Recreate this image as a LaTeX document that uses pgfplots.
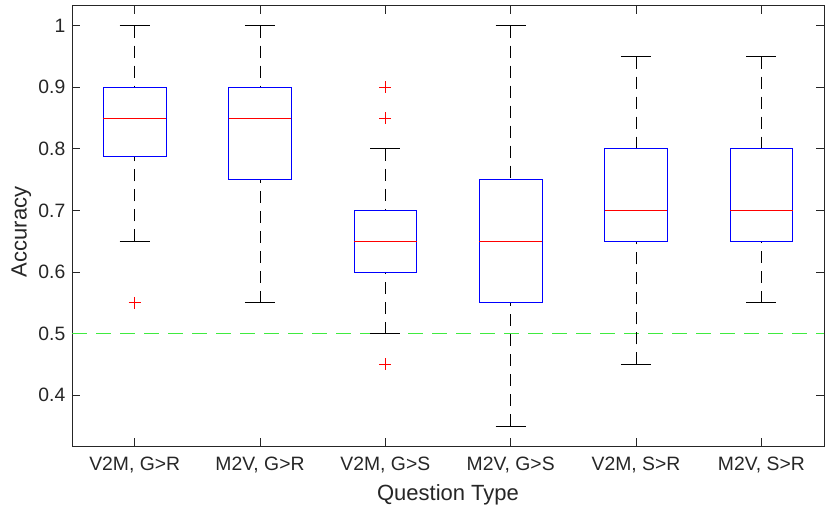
\documentclass[border=0pt]{standalone}
\usepackage{pgfplots}
\pgfplotsset{compat=1.18}
\usepgfplotslibrary{statistics}
\usepackage{fontspec}
\setmainfont{Liberation Sans}
\definecolor{axgray}{rgb}{0.15,0.15,0.15}
\definecolor{mgreen}{rgb}{0.25,0.92,0.25}
\pgfplotsset{
  boxplot/draw/lower whisker/.code={%
    \draw[black, line width=0.6pt, dash pattern=on 9pt off 6pt]
      (boxplot box cs:\pgfplotsboxplotvalue{lower whisker},0.5) --
      (boxplot box cs:\pgfplotsboxplotvalue{lower quartile},0.5);
    \draw[black, solid, line width=0.6pt]
      (boxplot whisker cs:\pgfplotsboxplotvalue{lower whisker},0) --
      (boxplot whisker cs:\pgfplotsboxplotvalue{lower whisker},1);
  },
  boxplot/draw/upper whisker/.code={%
    \draw[black, line width=0.6pt, dash pattern=on 9pt off 6pt]
      (boxplot box cs:\pgfplotsboxplotvalue{upper whisker},0.5) --
      (boxplot box cs:\pgfplotsboxplotvalue{upper quartile},0.5);
    \draw[black, solid, line width=0.6pt]
      (boxplot whisker cs:\pgfplotsboxplotvalue{upper whisker},0) --
      (boxplot whisker cs:\pgfplotsboxplotvalue{upper whisker},1);
  },
}
\begin{document}
\fontsize{14.5}{17}\selectfont
\begin{tikzpicture}
\begin{axis}[name=ax, scale only axis, width=564pt, height=330.2pt,
  xmin=0.5, xmax=6.5, ymin=0.3175, ymax=1.0325,
  xtick={1,2,3,4,5,6},
  xticklabels={{V2M, G>R},{M2V, G>R},{V2M, G>S},{M2V, G>S},{V2M, S>R},{M2V, S>R}},
  ytick={0.4,0.5,0.6,0.7,0.8,0.9,1.0},
  yticklabels={0.4,0.5,0.6,0.7,0.8,0.9,1},
  tick align=inside, major tick length=6pt,
  axis line style={draw=axgray, line width=0.6pt},
  tick style={draw=axgray, line width=0.6pt},
  ticklabel style={text=axgray, font=\fontsize{14.5}{17}\selectfont},
  xticklabel style={yshift=-3pt},
  label style={text=axgray, font=\fontsize{16.5}{19}\selectfont},
  xlabel={Question Type}, ylabel={Accuracy},
  xlabel style={yshift=1pt}, ylabel style={yshift=-4.5pt, xshift=-4.5pt},
  boxplot/draw direction=y,
  boxplot/box extend=0.5,
  boxplot/whisker extend=0.24,
  boxplot/every median/.style={draw=red, solid, line width=0.6pt},
  boxplot/every box/.style={draw=blue, solid, line width=0.6pt},
]
\addplot[mgreen, line width=1.3pt, dash pattern=on 11pt off 7pt, forget plot]
  coordinates {(0.5,0.5) (6.5,0.5)};

\addplot[blue, boxplot prepared={draw position=1,
  lower whisker=0.65, lower quartile=0.7875, median=0.85,
  upper quartile=0.9, upper whisker=1.0}] coordinates {};
\addplot[blue, boxplot prepared={draw position=2,
  lower whisker=0.55, lower quartile=0.75, median=0.85,
  upper quartile=0.9, upper whisker=1.0}] coordinates {};
\addplot[blue, boxplot prepared={draw position=3,
  lower whisker=0.5, lower quartile=0.6, median=0.65,
  upper quartile=0.7, upper whisker=0.8}] coordinates {};
\addplot[blue, boxplot prepared={draw position=4,
  lower whisker=0.35, lower quartile=0.55, median=0.65,
  upper quartile=0.75, upper whisker=1.0}] coordinates {};
\addplot[blue, boxplot prepared={draw position=5,
  lower whisker=0.45, lower quartile=0.65, median=0.7,
  upper quartile=0.8, upper whisker=0.95}] coordinates {};
\addplot[blue, boxplot prepared={draw position=6,
  lower whisker=0.55, lower quartile=0.65, median=0.7,
  upper quartile=0.8, upper whisker=0.95}] coordinates {};

% outliers
\addplot[only marks, red, mark=+, mark size=4.5pt, line width=0.7pt]
  coordinates {(1,0.55) (3,0.45) (3,0.85) (3,0.9)};
\end{axis}
\pgfresetboundingbox
\path ([shift={(-54pt,-48.75pt)}]ax.south west) rectangle ([shift={(5.25pt,4.3pt)}]ax.north east);
\end{tikzpicture}
\end{document}
